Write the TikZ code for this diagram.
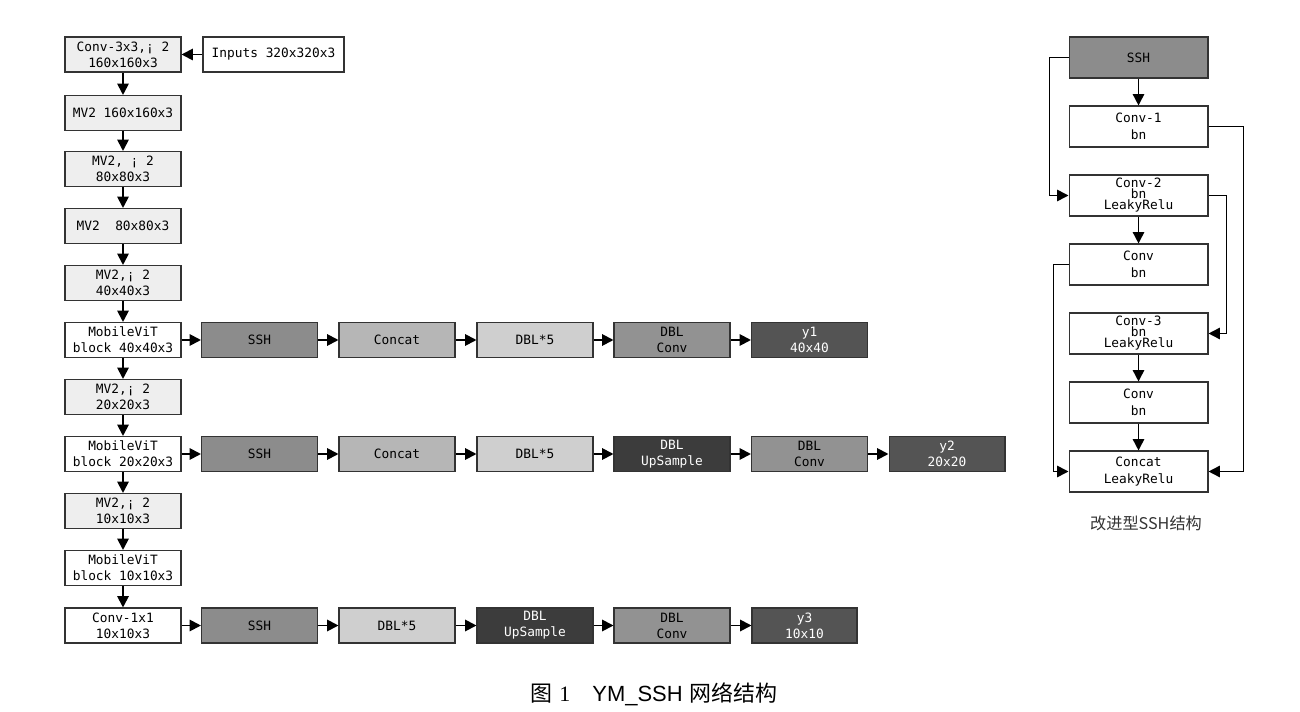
\documentclass[tikz,border=0pt]{standalone}
\usepackage{fontspec}
\setmonofont{DejaVu Sans Mono}
\newfontfamily\cjkfont{Noto Sans CJK SC}
\newfontfamily\arialfont{Liberation Sans}
\newfontfamily\timesfont{Liberation Serif}
\usetikzlibrary{arrows.meta}
\definecolor{litegray}{RGB}{238,238,238}
\definecolor{sshgray}{RGB}{140,140,140}
\definecolor{catgray}{RGB}{182,182,182}
\definecolor{dblgray}{RGB}{207,207,207}
\definecolor{convgray}{RGB}{146,146,146}
\definecolor{outgray}{RGB}{84,84,84}
\definecolor{upgray}{RGB}{60,60,60}
\tikzset{%
  blk/.style={draw=black!80, line width=0.6pt, minimum width=2.32cm, minimum height=0.7cm,
              inner sep=0pt, align=center, font=\ttfamily\fontsize{7.3}{9.2}\selectfont},
  lite/.style={blk, fill=litegray},
  sshbox/.style={blk, fill=sshgray},
  catbox/.style={blk, fill=catgray},
  dblbox/.style={blk, fill=dblgray},
  convbox/.style={blk, fill=convgray},
  upbox/.style={blk, fill=upgray, text=white},
  outbox/.style={blk, fill=outgray, text=white},
  rblk/.style={blk, minimum width=2.78cm, minimum height=0.82cm,
               font=\ttfamily\fontsize{7.3}{9.7}\selectfont},
  tight/.style={font=\ttfamily\fontsize{7.3}{6.3}\selectfont},
  arr/.style={-{Triangle[length=6.5pt, width=6.5pt]}, line width=1.1pt},
  rarr/.style={arr, line width=0.9pt},
}

\begin{document}
\begin{tikzpicture}[x=0.02cm, y=-0.02cm]
    \useasboundingbox (0,0) rectangle (1300,712);

    %backbone
    \node[lite] (c33) at (123,54.5) {Conv-3x3,¡ 2\\160x160x3};
    \node[blk, minimum width=2.82cm] (inp) at (273.5,54.5) {Inputs 320x320x3};
    \node[lite] (mv1) at (123,113) {MV2 160x160x3};
    \node[lite] (mv2) at (123,169) {MV2, ¡ 2\\80x80x3};
    \node[lite] (mv3) at (123,226) {MV2\ \ 80x80x3};
    \node[lite] (mv4) at (123,283) {MV2,¡ 2\\40x40x3};
    \node[blk]  (vit1) at (123,340) {MobileViT\\block 40x40x3};
    \node[lite] (mv5) at (123,397) {MV2,¡ 2\\20x20x3};
    \node[blk]  (vit2) at (123,454) {MobileViT\\block 20x20x3};
    \node[lite] (mv6) at (123,511) {MV2,¡ 2\\10x10x3};
    \node[blk]  (vit3) at (123,568) {MobileViT\\block 10x10x3};
    \node[blk]  (c11) at (123,625.5) {Conv-1x1\\10x10x3};

    \draw[arr] (inp) -- (c33);
    \draw[arr] (c33) -- (mv1);
    \draw[arr] (mv1) -- (mv2);
    \draw[arr] (mv2) -- (mv3);
    \draw[arr] (mv3) -- (mv4);
    \draw[arr] (mv4) -- (vit1);
    \draw[arr] (vit1) -- (mv5);
    \draw[arr] (mv5) -- (vit2);
    \draw[arr] (vit2) -- (mv6);
    \draw[arr] (mv6) -- (vit3);
    \draw[arr] (vit3) -- (c11);

    %head 1
    \node[sshbox]  (sa) at (259.5,340) {SSH};
    \node[catbox]  (ca) at (397,340) {Concat};
    \node[dblbox]  (da) at (535,340) {DBL*5};
    \node[convbox] (va) at (672,340) {DBL\\Conv};
    \node[outbox]  (ya) at (809.5,340) {y1\\40x40};
    \draw[arr] (vit1) -- (sa);
    \draw[arr] (sa) -- (ca);
    \draw[arr] (ca) -- (da);
    \draw[arr] (da) -- (va);
    \draw[arr] (va) -- (ya);

    %head 2
    \node[sshbox]  (sb) at (259.5,454) {SSH};
    \node[catbox]  (cb) at (397,454) {Concat};
    \node[dblbox]  (db) at (535,454) {DBL*5};
    \node[upbox]   (ub) at (672,454) {DBL\\UpSample};
    \node[convbox] (vb) at (809.5,454) {DBL\\Conv};
    \node[outbox]  (yb) at (947,454) {y2\\20x20};
    \draw[arr] (vit2) -- (sb);
    \draw[arr] (sb) -- (cb);
    \draw[arr] (cb) -- (db);
    \draw[arr] (db) -- (ub);
    \draw[arr] (ub) -- (vb);
    \draw[arr] (vb) -- (yb);

    %head 3
    \node[sshbox]  (sc) at (259.5,625.5) {SSH};
    \node[dblbox]  (dc) at (397,625.5) {DBL*5};
    \node[upbox]   (uc) at (535,625.5) {DBL\\UpSample};
    \node[convbox] (vc) at (672,625.5) {DBL\\Conv};
    \node[outbox, minimum width=2.1cm] (yc) at (804.5,625.5) {y3\\10x10};
    \draw[arr] (c11) -- (sc);
    \draw[arr] (sc) -- (dc);
    \draw[arr] (dc) -- (uc);
    \draw[arr] (uc) -- (vc);
    \draw[arr] (vc) -- (yc);

    %improved SSH
    \node[rblk, fill=sshgray] (rssh) at (1138.5,57.5) {SSH};
    \node[rblk] (r1) at (1138.5,126.5) {Conv-1\\bn};
    \node[rblk, tight] (r2) at (1138.5,195.5) {Conv-2\\bn\\LeakyRelu};
    \node[rblk] (r2b) at (1138.5,264.5) {Conv\\bn};
    \node[rblk, tight] (r3) at (1138.5,333.5) {Conv-3\\bn\\LeakyRelu};
    \node[rblk] (r3b) at (1138.5,402.5) {Conv\\bn};
    \node[rblk] (rcat) at (1138.5,471.5) {Concat\\LeakyRelu};

    \draw[rarr] (rssh) -- (r1);
    \draw[rarr] (r2) -- (r2b);
    \draw[rarr] (r3) -- (r3b);
    \draw[rarr] (r3b) -- (rcat);
    \draw[rarr] (rssh.west) -- ++(-19,0) |- (r2.west);
    \draw[rarr] (r1.east) -- ++(35,0) |- (rcat.east);
    \draw[rarr] (r2.east) -- ++(18,0) |- (r3.east);
    \draw[rarr] (r2b.west) -- ++(-15,0) |- (rcat.west);

    \node[font=\cjkfont\fontsize{9.2}{11}\selectfont, text=black!80] (rcap) at (1146,523) {改进型SSH结构};

    %caption
    \node[font=\fontsize{12.5}{14}\selectfont] (cap) at (654,694)
      {{\cjkfont 图} {\timesfont 1}\hspace{1em}{\arialfont YM\_SSH} {\cjkfont 网络结构}};
\end{tikzpicture}
\end{document}
